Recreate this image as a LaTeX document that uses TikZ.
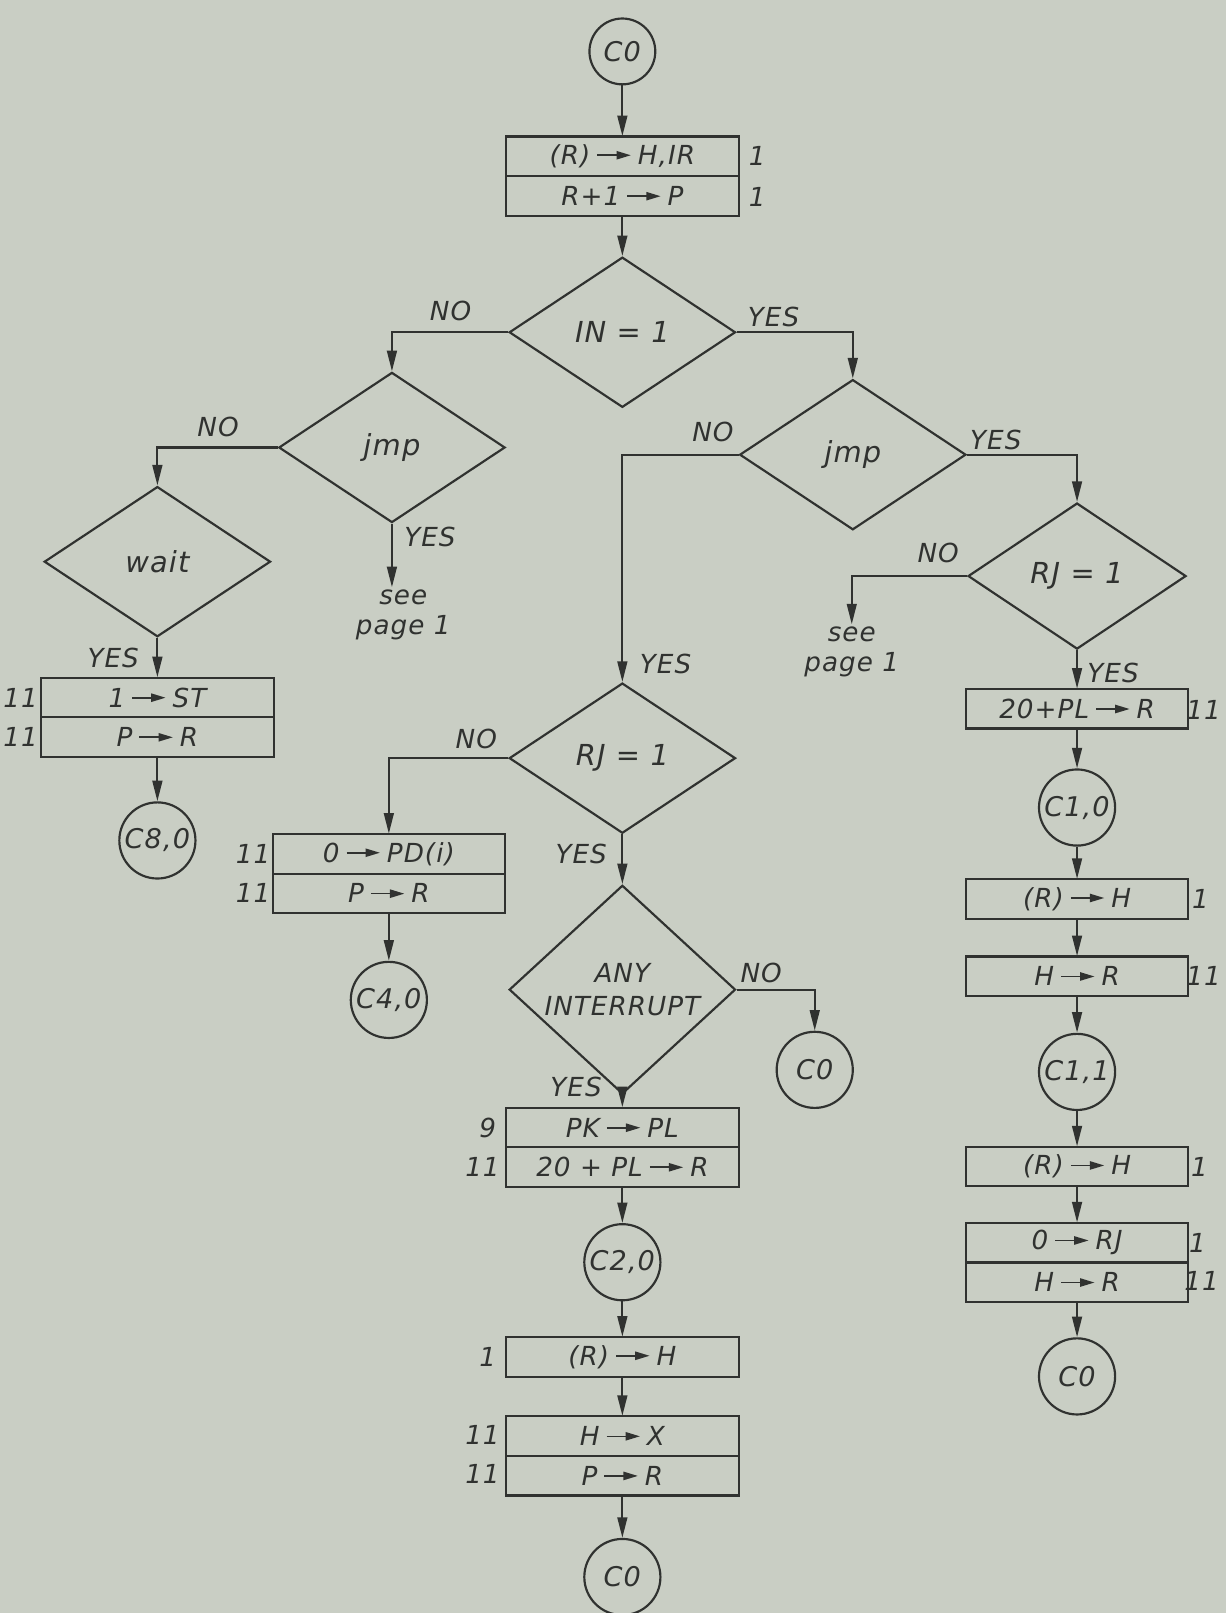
\documentclass[tikz,border=0pt]{standalone}
\usepackage{fontspec}
\setmainfont{DejaVu Sans}[LetterSpace=4]
\usetikzlibrary{arrows.meta,shapes.geometric}

\definecolor{paper}{RGB}{201,206,196}
\definecolor{ink}{RGB}{48,50,48}

% inline transfer arrow used inside the boxes
\newcommand\ato{\hspace{1.2mm}\tikz[baseline=-0.65ex]\draw[ink,line width=0.9pt,-{Triangle[length=2.8mm,width=1.6mm]}] (0,0) -- (6.5mm,0);\hspace{1.2mm}}

\begin{document}
\begin{tikzpicture}[x=0.2mm,y=-0.2mm,line width=1.2pt,color=ink,
  font=\fontsize{14.5}{16.5}\selectfont\itshape,
  term/.style={circle,draw,minimum size=14.8mm,inner sep=0pt,font=\fontsize{15}{17}\selectfont\itshape},
  test/.style={diamond,draw,minimum width=44mm,minimum height=29.2mm,inner sep=0pt,align=center},
  op/.style={rectangle,draw,minimum width=45.2mm,minimum height=7.7mm,inner sep=0pt},
  opr/.style={op,minimum width=43.2mm},
  num/.style={inner sep=1pt},
  lbl/.style={inner sep=1pt},
  arr/.style={-{Triangle[length=4mm,width=1.9mm]}}]
  \fill[paper] (0,0) rectangle (1192,1568);
  \useasboundingbox (0,0) rectangle (1192,1568);

  % start
  \node[term,minimum size=12.8mm] (c0top) at (605,50) {C0};
  \node[op] (b1a) at (605,152) {(R)\ato H,IR};
  \node[op] (b1b) at (605,190.5) {R+1\ato P};
  \node[num] (n1a) at (736,152) {1};
  \node[num] (n1b) at (736,191) {1};
  \node[test,font=\fontsize{16}{18}\selectfont\itshape] (in1) at (605,323) {IN = 1};

  % left branch
  \node[test,font=\fontsize{16}{18}\selectfont\itshape] (jmpL) at (381,435) {jmp};
  \node[test,font=\fontsize{16}{18}\selectfont\itshape] (wait) at (153,546) {wait};
  \node[op] (b2a) at (153,678) {1\ato ST};
  \node[op] (b2b) at (153,716.5) {P\ato R};
  \node[num] (n2a) at (20,678) {11};
  \node[num] (n2b) at (20,716) {11};
  \node[term] (c80) at (153,817) {C8,0};
  \node[align=center,inner sep=1pt] (seeL) at (392,598) {see\\page 1};

  % right branch
  \node[test,font=\fontsize{16}{18}\selectfont\itshape] (jmpR) at (829,442) {jmp};
  \node[test,minimum width=42.4mm,minimum height=28.4mm,font=\fontsize{16}{18}\selectfont\itshape] (rjR) at (1047,560) {RJ = 1};
  \node[align=center,inner sep=1pt] (seeR) at (828,634) {see\\page 1};
  \node[opr] (b3) at (1047,689) {20+PL\ato R};
  \node[num] (n3) at (1170,690) {11};
  \node[term] (c10) at (1047,785) {C1,0};
  \node[opr] (b4) at (1047,874) {(R)\ato H};
  \node[num] (n4) at (1167,874) {1};
  \node[opr] (b5) at (1047,949) {H\ato R};
  \node[num] (n5) at (1170,949) {11};
  \node[term] (c11) at (1047,1042) {C1,1};
  \node[opr] (b6) at (1047,1134) {(R)\ato H};
  \node[num] (n6) at (1166,1134) {1};
  \node[opr] (b7a) at (1047,1208) {0\ato RJ};
  \node[opr] (b7b) at (1047,1246.5) {H\ato R};
  \node[num] (n7a) at (1164,1208) {1};
  \node[num] (n7b) at (1168,1245) {11};
  \node[term] (c0r) at (1047,1338) {C0};

  % middle column
  \node[test,font=\fontsize{16}{18}\selectfont\itshape] (rjM) at (605,737) {RJ = 1};
  \node[op] (b8a) at (378,830) {0\ato PD(i)};
  \node[op] (b8b) at (378,868.5) {P\ato R};
  \node[num] (n8a) at (246,830) {11};
  \node[num] (n8b) at (246,868) {11};
  \node[term] (c40) at (378,972) {C4,0};
  \node[test] (anyint) at (605,962) {ANY\\[2pt]INTERRUPT};
  \node[term] (c0m) at (792,1040) {C0};
  \node[op] (b9a) at (605,1096) {PK\ato PL};
  \node[op] (b9b) at (605,1134.5) {20 + PL\ato R};
  \node[num] (n9a) at (474,1096) {9};
  \node[num] (n9b) at (469,1134) {11};
  \node[term] (c20) at (605,1227) {C2,0};
  \node[op] (b10) at (605,1319) {(R)\ato H};
  \node[num] (n10) at (474,1319) {1};
  \node[op] (b11a) at (605,1396) {H\ato X};
  \node[op] (b11b) at (605,1434.5) {P\ato R};
  \node[num] (n11a) at (469,1395) {11};
  \node[num] (n11b) at (469,1433) {11};
  \node[term] (c0b) at (605,1533) {C0};

  % branch labels
  \node[lbl] (lno1) at (438,302) {NO};
  \node[lbl] (lyes1) at (752,308) {YES};
  \node[lbl] (lno2) at (212,415) {NO};
  \node[lbl] (lyes2) at (418,522) {YES};
  \node[lbl] (lyes3) at (110,640) {YES};
  \node[lbl] (lno3) at (693,420) {NO};
  \node[lbl] (lyes4) at (968,428) {YES};
  \node[lbl] (lno4) at (912,538) {NO};
  \node[lbl] (lyes5) at (1082,654) {YES};
  \node[lbl] (lyes6) at (647,645) {YES};
  \node[lbl] (lno5) at (463,718) {NO};
  \node[lbl] (lyes7) at (565,830) {YES};
  \node[lbl] (lno6) at (740,946) {NO};
  \node[lbl] (lyes8) at (560,1057) {YES};

  % connectors
  \draw[arr] (c0top) -- (b1a);
  \draw[arr] (b1b) -- (in1);
  \draw[arr] (in1.west) -| (jmpL.north);
  \draw[arr] (in1.east) -| (jmpR.north);
  \draw[arr] (jmpL.west) -| (wait.north);
  \draw[arr] (jmpL.south) -- (jmpL.south |- seeL.north);
  \draw[arr] (wait) -- (b2a);
  \draw[arr] (b2b) -- (c80);
  \draw[arr] (jmpR.west) -| (rjM.north);
  \draw[arr] (jmpR.east) -| (rjR.north);
  \draw[arr] (rjR.west) -| (seeR.north);
  \draw[arr] (rjR) -- (b3);
  \draw[arr] (b3) -- (c10);
  \draw[arr] (c10) -- (b4);
  \draw[arr] (b4) -- (b5);
  \draw[arr] (b5) -- (c11);
  \draw[arr] (c11) -- (b6);
  \draw[arr] (b6) -- (b7a);
  \draw[arr] (b7b) -- (c0r);
  \draw[arr] (rjM.west) -| (b8a.north);
  \draw[arr] (b8b) -- (c40);
  \draw[arr] (rjM) -- (anyint);
  \draw[arr] (anyint.east) -| (c0m.north);
  \draw[arr] (anyint) -- (b9a);
  \draw[arr] (b9b) -- (c20);
  \draw[arr] (c20) -- (b10);
  \draw[arr] (b10) -- (b11a);
  \draw[arr] (b11b) -- (c0b);
\end{tikzpicture}
\end{document}
